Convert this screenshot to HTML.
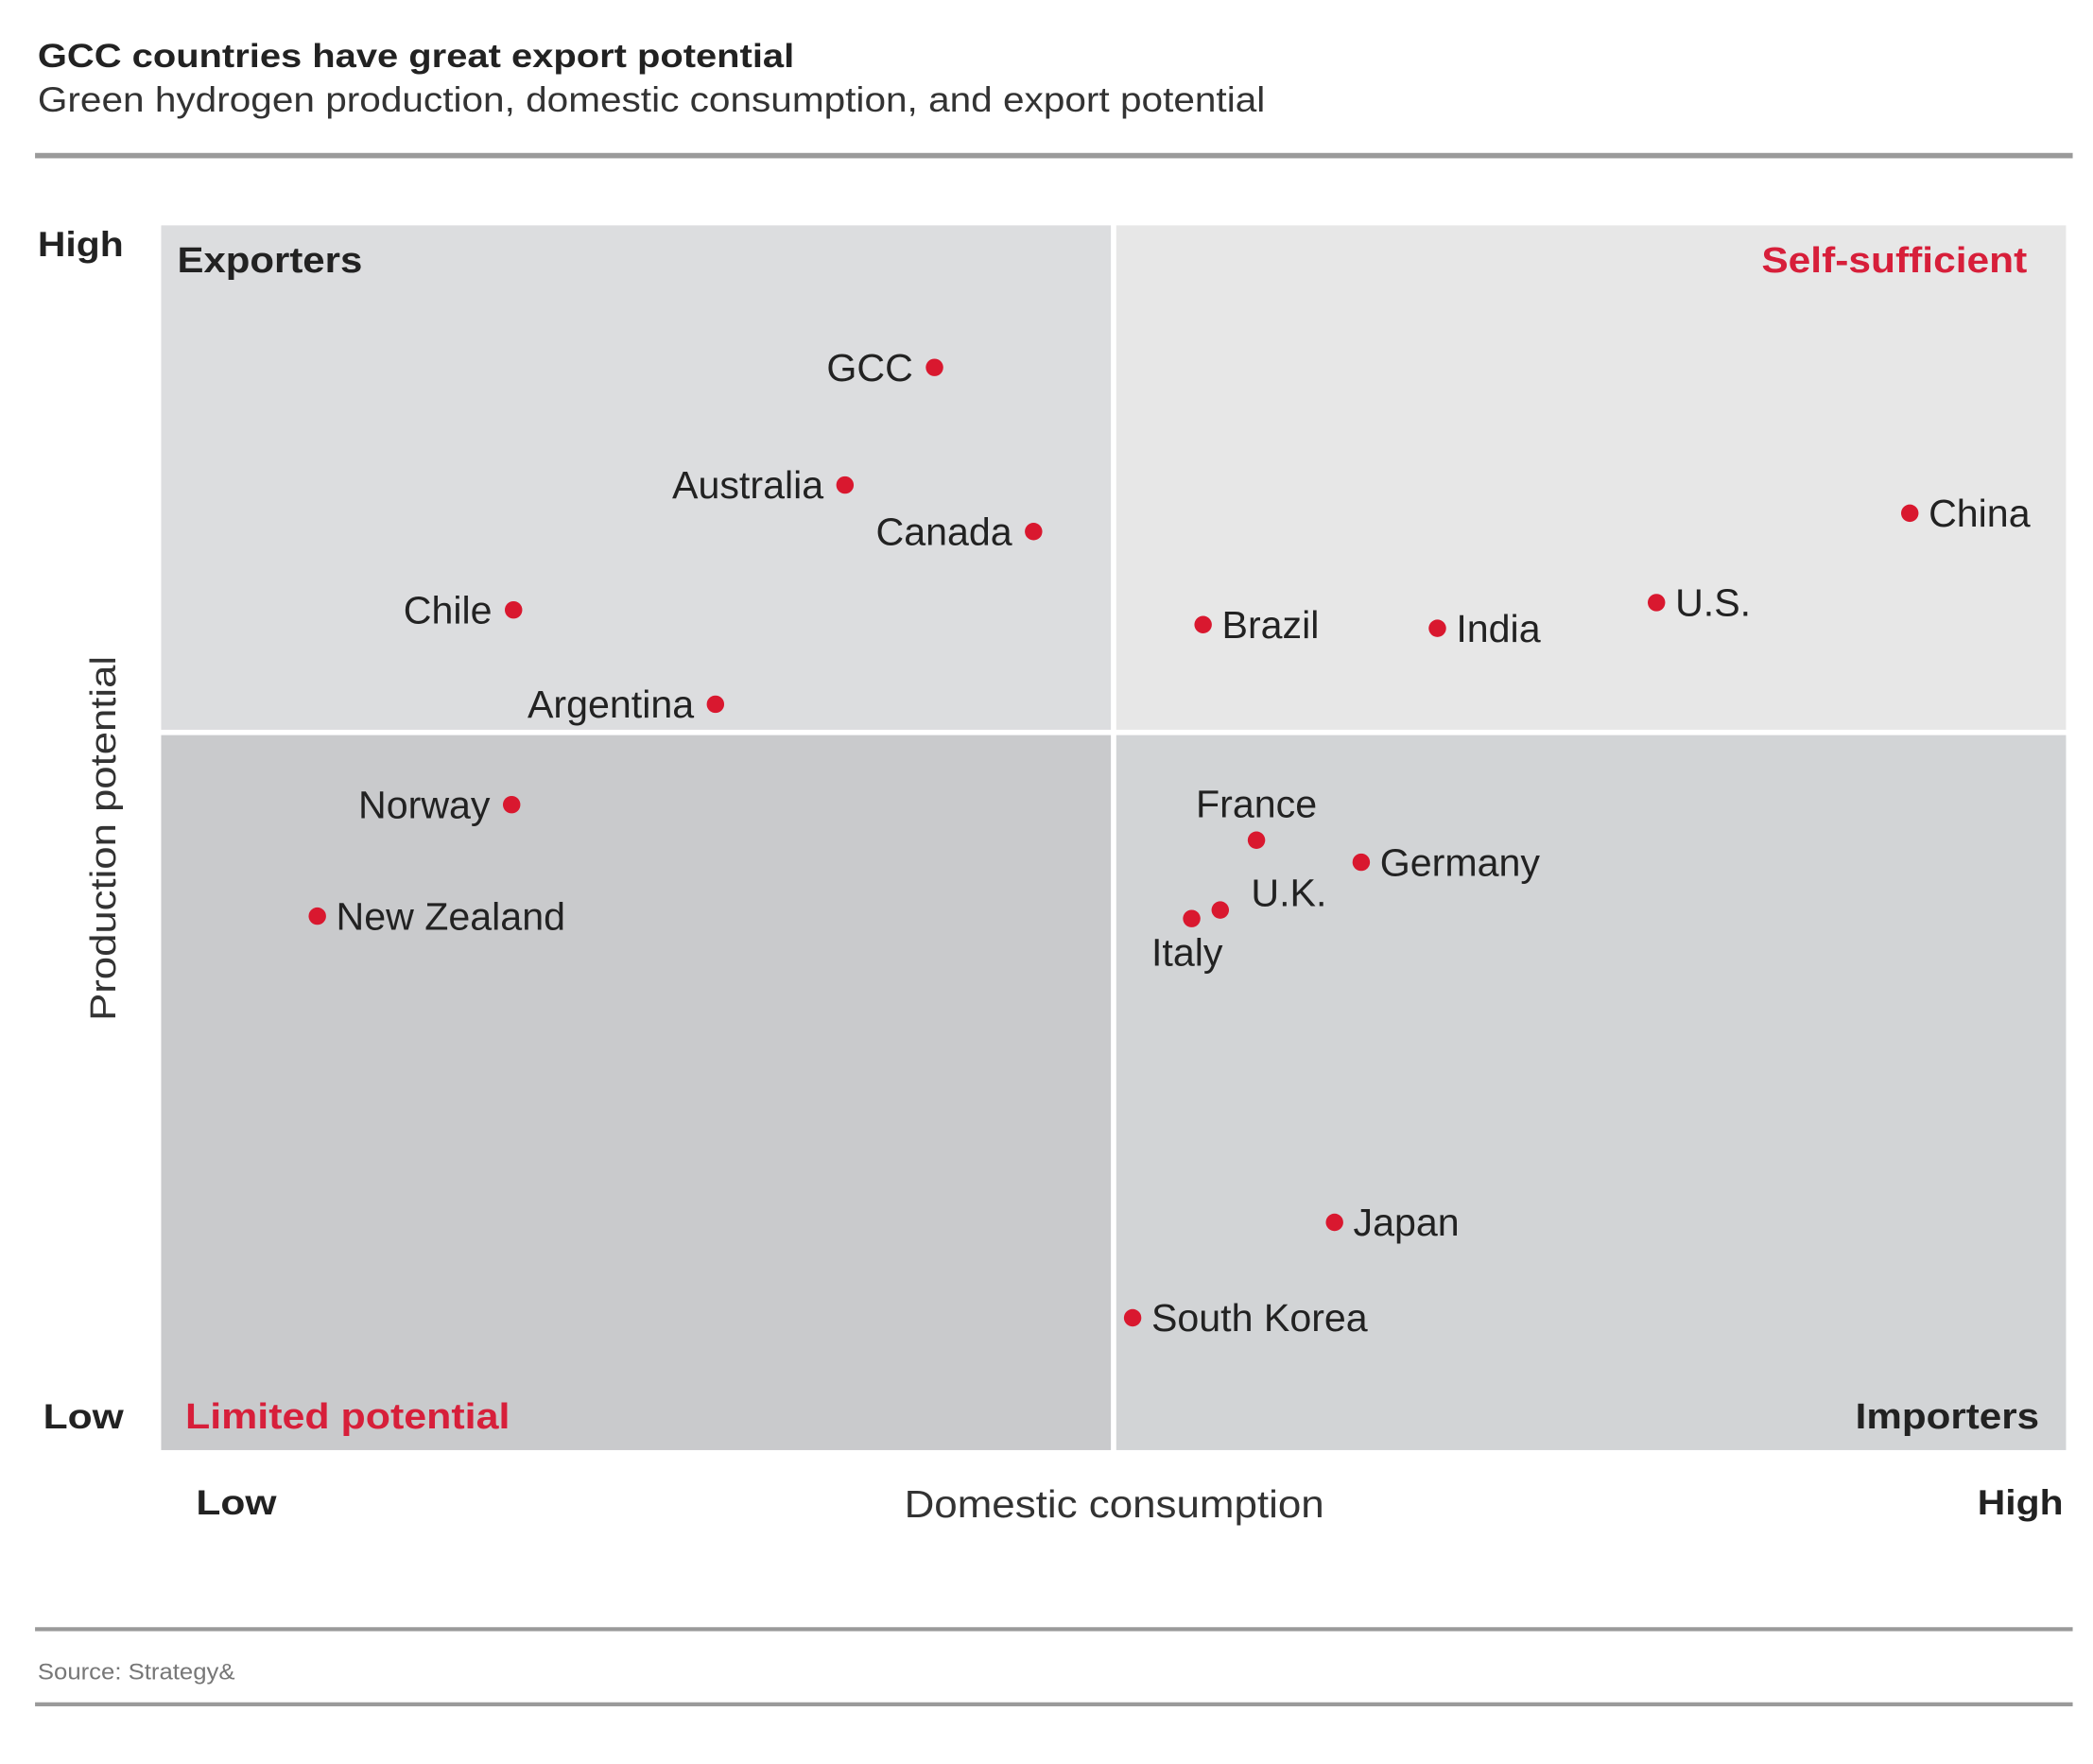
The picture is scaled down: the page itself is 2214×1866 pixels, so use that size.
<!DOCTYPE html>
<html><head><meta charset="utf-8"><style>
html,body{margin:0;padding:0;background:#fff;}
svg{display:block;font-family:"Liberation Sans",Arial,sans-serif;}
</style></head><body>
<svg id="chart" width="2214" height="1866" viewBox="0 0 1560 1315" xmlns="http://www.w3.org/2000/svg">
<text x="28" y="50" font-size="25" font-weight="bold" fill="#222" textLength="564" lengthAdjust="spacingAndGlyphs">GCC countries have great export potential</text>
<text x="28" y="83" font-size="26" fill="#333" textLength="915" lengthAdjust="spacingAndGlyphs">Green hydrogen production, domestic consumption, and export potential</text>
<rect x="26" y="114" width="1519" height="4" fill="#9a9a9a"/>
<rect x="120" y="168" width="708" height="376" fill="#dcdddf"/>
<rect x="832" y="168" width="708" height="376" fill="#e7e7e7"/>
<rect x="120" y="548" width="708" height="533" fill="#c9cacc"/>
<rect x="832" y="548" width="708" height="533" fill="#d2d4d6"/>
<text x="28" y="191" font-size="26" font-weight="bold" fill="#222" textLength="64" lengthAdjust="spacingAndGlyphs">High</text>
<text x="32" y="1065" font-size="26" font-weight="bold" fill="#222" textLength="60" lengthAdjust="spacingAndGlyphs">Low</text>
<text transform="translate(86,625) rotate(-90)" text-anchor="middle" font-size="27" fill="#333" textLength="272" lengthAdjust="spacingAndGlyphs">Production potential</text>
<text x="146" y="1129" font-size="26" font-weight="bold" fill="#222" textLength="60" lengthAdjust="spacingAndGlyphs">Low</text>
<text x="674" y="1131" font-size="29" fill="#333" textLength="313" lengthAdjust="spacingAndGlyphs">Domestic consumption</text>
<text x="1474" y="1129" font-size="26" font-weight="bold" fill="#222" textLength="64" lengthAdjust="spacingAndGlyphs">High</text>
<text x="132" y="203" font-size="27" font-weight="bold" fill="#222" textLength="138" lengthAdjust="spacingAndGlyphs">Exporters</text>
<text x="1313" y="203" font-size="27" font-weight="bold" fill="#d71f3a" textLength="198" lengthAdjust="spacingAndGlyphs">Self-sufficient</text>
<text x="138" y="1065" font-size="27" font-weight="bold" fill="#d71f3a" textLength="242" lengthAdjust="spacingAndGlyphs">Limited potential</text>
<text x="1383" y="1065" font-size="27" font-weight="bold" fill="#222" textLength="137" lengthAdjust="spacingAndGlyphs">Importers</text>
<g id="points"></g>
<rect x="26" y="1213" width="1519" height="3" fill="#9a9a9a"/>
<text x="28" y="1252" font-size="17" fill="#777" textLength="147" lengthAdjust="spacingAndGlyphs">Source: Strategy&amp;</text>
<rect x="26" y="1269" width="1519" height="3" fill="#9a9a9a"/>
</svg>
<script>
const countries = ["GCC","Australia","Canada","Chile","Argentina","Norway","New Zealand","Brazil","India","U.S.","China","France","Germany","U.K.","Italy","Japan","South Korea"];
const consumption = [40.6,35.9,45.8,18.5,29.1,18.4,8.2,54.7,67.0,78.5,91.8,57.5,63.0,55.6,54.1,61.6,51.0];
const production = [88.4,78.8,75.0,68.6,60.9,52.7,43.6,67.4,67.1,69.2,76.5,49.8,48.0,44.1,43.4,18.6,10.8];
const labelSide = ["L","L","L","L","L","L","R","R","R","R","R","T","R","RU","B","R","R"];
function xScale(v){return 120 + v/100*1420;}
function yScale(v){return 1081 - v/100*913;}
const g = document.getElementById('points');
const NS = "http://www.w3.org/2000/svg";
countries.forEach((name,i)=>{
  const cx = xScale(consumption[i]), cy = yScale(production[i]);
  const c = document.createElementNS(NS,'circle');
  c.setAttribute('cx',cx); c.setAttribute('cy',cy); c.setAttribute('r',6.5); c.setAttribute('fill','#d9182f');
  
  
  g.appendChild(c);
  const t = document.createElementNS(NS,'text');
  let tx=cx, ty=cy+10, anchor='start';
  const s = labelSide[i];
  if(s==='L'){tx=cx-16;anchor='end';}
  else if(s==='R'){tx=cx+14;}
  else if(s==='T'){ty=cy-17;anchor='middle';}
  else if(s==='RU'){tx=cx+23;ty=cy-3;}
  else if(s==='B'){tx=cx-30;ty=cy+35;}
  t.setAttribute('x',tx); t.setAttribute('y',ty); t.setAttribute('text-anchor',anchor);
  t.setAttribute('font-size','29'); t.setAttribute('fill','#222');
  t.textContent = name;
  
  
  g.appendChild(t);
});
</script>
</body></html>
